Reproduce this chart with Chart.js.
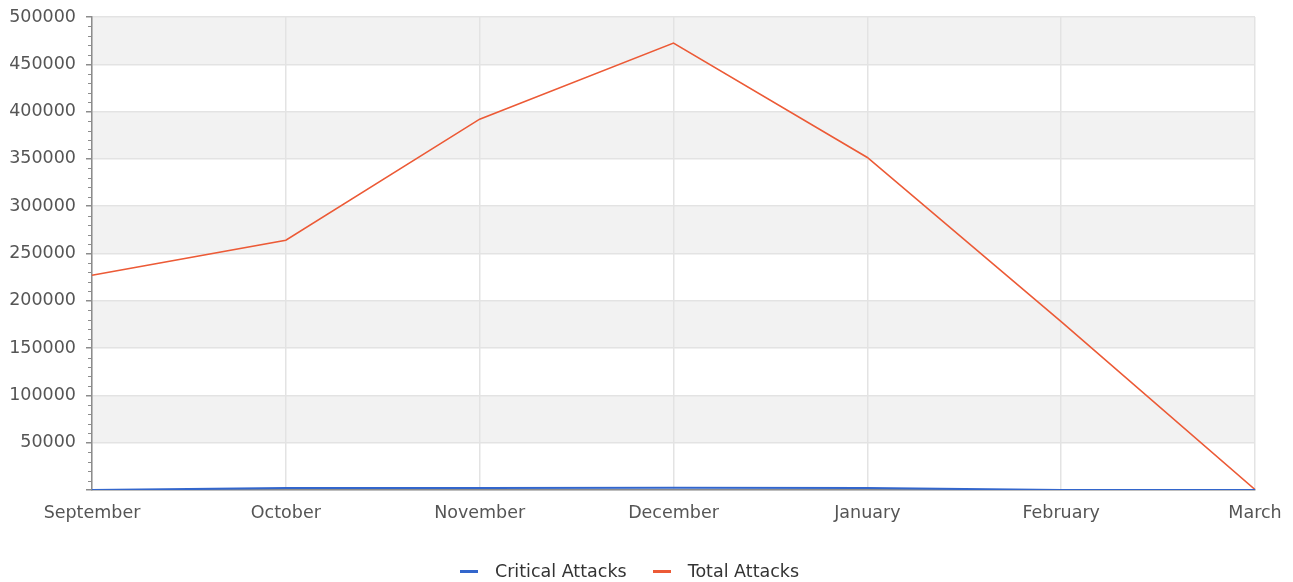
<!DOCTYPE html>
<html>
<head>
<meta charset="utf-8">
<script src="https://cdn.jsdelivr.net/npm/chart.js@4.4.1/dist/chart.umd.min.js"></script>
<style>
  html, body { margin: 0; padding: 0; background: #fff; }
  #wrap { position: relative; width: 1293px; height: 582px; }
  #legend {
    position: absolute; top: 561px; left: 0; width: 1259px;
    display: flex; justify-content: center; align-items: center;
    font: 17.5px "DejaVu Sans", sans-serif; color: #333;
  }
  .item { display: flex; align-items: center; margin: 0 13px; }
  .swatch { width: 18px; height: 3px; margin-right: 17px; }
</style>
</head>
<body>
<div id="wrap">
  <canvas id="chart" width="1293" height="582"></canvas>
  <div id="legend"></div>
</div>
<script>
  const months = ['September', 'October', 'November', 'December', 'January', 'February', 'March'];
  const criticalAttacks = [0, 2000, 2200, 2400, 2100, 0, 0];
  const totalAttacks = [227000, 264000, 392000, 472500, 351500, 178000, 500];
  const seriesNames = ['Critical Attacks', 'Total Attacks'];
  const seriesColors = ['#3366cc', '#ec5a36'];
  const yMax = 500000;
  const yStep = 50000;
  const yMinorStep = 10000;

  // shaded bands behind every other grid row
  const bandsPlugin = {
    id: 'bands',
    beforeDraw(chart) {
      const { ctx, chartArea: a, scales: { y } } = chart;
      ctx.save();
      ctx.fillStyle = '#f2f2f2';
      for (let v = yStep; v < yMax; v += 2 * yStep) {
        const top = y.getPixelForValue(v + yStep);
        const bot = y.getPixelForValue(v);
        ctx.fillRect(a.left, top, a.right - a.left, bot - top);
      }
      ctx.restore();
    }
  };

  // minor tick marks on the value axis
  const minorTicks = {
    id: 'minorTicks',
    afterDraw(chart) {
      const { ctx, chartArea: a, scales: { y } } = chart;
      ctx.save();
      ctx.strokeStyle = '#8c8c8c';
      ctx.lineWidth = 1;
      for (let v = yMinorStep; v < yMax; v += yMinorStep) {
        if (v % yStep === 0) continue;
        const py = Math.round(y.getPixelForValue(v)) + 0.5;
        ctx.beginPath();
        ctx.moveTo(a.left - 4, py);
        ctx.lineTo(a.left, py);
        ctx.stroke();
      }
      ctx.restore();
    }
  };

  const legend = document.getElementById('legend');
  seriesNames.forEach((n, i) => {
    const item = document.createElement('div');
    item.className = 'item';
    item.innerHTML = `<span class="swatch" style="background:${seriesColors[i]}"></span><span>${n}</span>`;
    legend.appendChild(item);
  });

  new Chart(document.getElementById('chart'), {
    type: 'line',
    data: {
      labels: months,
      datasets: [
        { label: seriesNames[0], data: criticalAttacks, borderColor: seriesColors[0], borderWidth: 2, pointRadius: 0, tension: 0, fill: false },
        { label: seriesNames[1], data: totalAttacks, borderColor: seriesColors[1], borderWidth: 1.6, pointRadius: 0, tension: 0, fill: false }
      ]
    },
    options: {
      responsive: false,
      animation: false,
      layout: { padding: { top: 17, right: 38, bottom: 40, left: 0 } },
      plugins: { legend: { display: false }, tooltip: { enabled: false } },
      scales: {
        x: {
          grid: { color: '#e3e3e3', lineWidth: 1.5, drawTicks: false },
          border: { color: '#8c8c8c', width: 1.5 },
          ticks: { color: '#555', padding: 13, maxRotation: 0, autoSkip: false, font: { family: 'DejaVu Sans', size: 17.5 } },
          afterFit(s) { s.height = 52; s.paddingLeft = 0; s.paddingRight = 0; }
        },
        y: {
          min: 0,
          max: yMax,
          grid: { color: '#e3e3e3', lineWidth: 1.5, tickColor: '#8c8c8c', tickLength: 6 },
          border: { color: '#8c8c8c', width: 1.5 },
          ticks: {
            stepSize: yStep,
            color: '#555',
            padding: 10,
            font: { family: 'DejaVu Sans', size: 17.5 },
            callback: v => (v === 0 ? '' : String(v))
          },
          afterFit(s) { s.width = 92; s.paddingTop = 0; s.paddingBottom = 0; }
        }
      }
    },
    plugins: [bandsPlugin, minorTicks]
  });
</script>
</body>
</html>
